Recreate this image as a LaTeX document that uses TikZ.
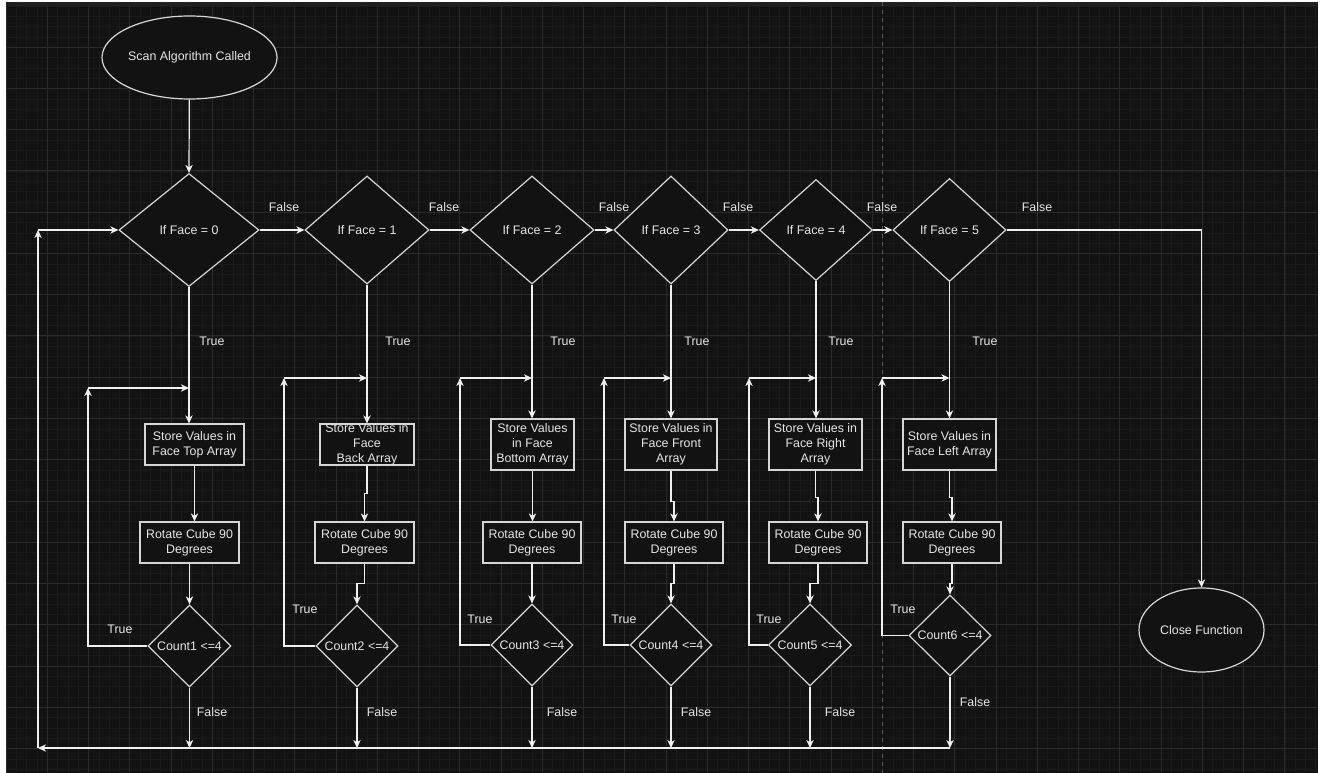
\documentclass[tikz,border=0pt]{standalone}
\usepackage{fontspec}
\setmainfont{Liberation Sans}
\usetikzlibrary{shapes.geometric,arrows.meta}
\definecolor{bgc}{HTML}{121212}
\definecolor{minorc}{HTML}{1A1A1A}
\definecolor{majorc}{HTML}{2A2A2A}
\definecolor{bandc}{HTML}{202020}
\definecolor{linec}{HTML}{F0F0F0}
\definecolor{shapec}{HTML}{D6D6D6}
\definecolor{txtc}{HTML}{E6E6E6}
\definecolor{dashc}{HTML}{5A5A5A}
\begin{document}
\begin{tikzpicture}[x=0.75pt,y=-0.75pt,
  every node/.style={font=\fontsize{9.3}{11.4}\selectfont, text=txtc},
  sz/.style 2 args={minimum width=#1*0.75pt, minimum height=#2*0.75pt},
  shp/.style={draw=shapec, fill=bgc, line width=0.9pt, inner sep=0pt, align=center},
  proc/.style={shp, rectangle},
  dec/.style={shp, diamond},
  term/.style={shp, ellipse},
  conn/.style={draw=linec, line width=0.9pt},
  arr/.style={conn, -{Stealth[length=6pt,width=5.5pt,inset=1.8pt]}},
  lbl/.style={inner sep=0pt}
]
% page and canvas
\fill[white] (0,0) rectangle (1324,773);
\useasboundingbox (0,0) rectangle (1324,773);
\fill[bgc] (6,2) rectangle (1318,773);
\foreach \i in {0,...,127} \draw[minorc, line width=0.4pt] ({6+\i*10.3125},2) -- ({6+\i*10.3125},773);
\foreach \i in {0,...,74} \draw[minorc, line width=0.4pt] (6,{6+\i*10.3125}) -- (1318,{6+\i*10.3125});
\foreach \i in {0,...,31} \draw[majorc, line width=0.75pt] ({6+\i*41.25},2) -- ({6+\i*41.25},773);
\foreach \i in {0,...,18} \draw[majorc, line width=0.75pt] (6,{6+\i*41.25}) -- (1318,{6+\i*41.25});
\fill[bandc] (6,2) rectangle (1318,6);
\draw[dashc, line width=0.5pt, dash pattern=on 3pt off 3pt] (882,2) -- (882,773);

% nodes
\node[term, sz={175}{83}] (start) at (189.5,57.5) {Scan Algorithm Called};
\node[dec, sz={140}{113}] (d0) at (189,230) {If Face = 0};
\node[dec, sz={124}{108}] (d1) at (367,230) {If Face = 1};
\node[dec, sz={124}{108}] (d2) at (532,230) {If Face = 2};
\node[dec, sz={114}{108}] (d3) at (671,230) {If Face = 3};
\node[dec, sz={113}{101}] (d4) at (816,230) {If Face = 4};
\node[dec, sz={113}{103}] (d5) at (949.5,230) {If Face = 5};

\node[proc, sz={99}{41}] (s0) at (194.5,444.5) {Store Values in\\Face Top Array};
\node[proc, sz={94}{41}, inner ysep=-3pt] (s1) at (367,444.5) {Store Values in\\Face\\Back Array};
\node[proc, sz={83}{51}] (s2) at (532.5,444.5) {Store Values\\in Face\\Bottom Array};
\node[proc, sz={92}{51}] (s3) at (671,444.5) {Store Values in\\Face Front\\Array};
\node[proc, sz={93}{51}] (s4) at (815.5,444.5) {Store Values in\\Face Right\\Array};
\node[proc, sz={93}{51}] (s5) at (949.5,444.5) {Store Values in\\Face Left Array};

\node[proc, sz={99}{41}] (r0) at (189.5,542.5) {Rotate Cube 90\\Degrees};
\node[proc, sz={99}{41}] (r1) at (364.5,542.5) {Rotate Cube 90\\Degrees};
\node[proc, sz={98}{41}] (r2) at (532,542.5) {Rotate Cube 90\\Degrees};
\node[proc, sz={98}{41}] (r3) at (674,542.5) {Rotate Cube 90\\Degrees};
\node[proc, sz={98}{41}] (r4) at (818,542.5) {Rotate Cube 90\\Degrees};
\node[proc, sz={98}{41}] (r5) at (952,542.5) {Rotate Cube 90\\Degrees};

\node[dec, sz={83}{82}] (c0) at (189.5,646) {Count1 <=4};
\node[dec, sz={82}{82}] (c1) at (357,646) {Count2 <=4};
\node[dec, sz={82}{82}] (c2) at (532,645) {Count3 <=4};
\node[dec, sz={82}{82}] (c3) at (671,645) {Count4 <=4};
\node[dec, sz={83}{82}] (c4) at (810,645) {Count5 <=4};
\node[dec, sz={82}{81}] (c5) at (950,635.5) {Count6 <=4};

\node[term, sz={125}{84}] (close) at (1201.5,630) {Close Function};

% coordinates
\coordinate (L1) at (38,748);
\coordinate (L2) at (38,230);
\coordinate (ja0) at (88,388);  \coordinate (jb0) at (189,388);
\coordinate (ja1) at (284,378); \coordinate (jb1) at (367,378);
\coordinate (ja2) at (460,378); \coordinate (jb2) at (532,378);
\coordinate (ja3) at (604,378); \coordinate (jb3) at (671,378);
\coordinate (ja4) at (749,378); \coordinate (jb4) at (816,378);
\coordinate (ja5) at (882,378); \coordinate (jb5) at (949.5,378);

% top row
\draw[arr] (start) -- (d0.north);
\draw[arr] (d0.east) -- (d1.west);
\draw[arr] (d1.east) -- (d2.west);
\draw[arr] (d2.east) -- (d3.west);
\draw[arr] (d3.east) -- (d4.west);
\draw[arr] (d4.east) -- (d5.west);
\draw[arr] (d5.east) -| (close.north);

% columns
\foreach \k in {0,...,5}{
  \draw[arr] (d\k.south) -- (s\k.north -| d\k.south);
  \draw[arr] (ja\k) -- (jb\k);
  \draw[arr] (c\k.west) -| (ja\k);
  \draw[arr] (c\k.south) -- (c\k.south |- L1);
}
\draw[arr] (s0.south) -- (s0.south |- r0.north);
\draw[arr] (r0.south) -- (c0.north);
\draw[arr] (s1.south) -- ++(0,28) -| (r1.north);
\draw[arr] (r1.south) -- ++(0,20) -| (c1.north);
\draw[arr] (s2.south) -- (s2.south |- r2.north);
\draw[arr] (r2.south) -- (c2.north);
\draw[arr] (s3.south) -- ++(0,31) -| (r3.north);
\draw[arr] (r3.south) -- ++(0,20) -| (c3.north);
\draw[arr] (s4.south) -- ++(0,27) -| (r4.north);
\draw[arr] (r4.south) -- ++(0,20) -| (c4.north);
\draw[arr] (s5.south) -- ++(0,27) -| (r5.north);
\draw[arr] (r5.south) -- ++(0,20) -| (c5.north);

% return loop
\draw[arr] (c5.south |- L1) -- (L1);
\draw[arr] (L1) -- (L2);
\draw[arr] (L2) -- (d0.west);

% labels
\node[lbl] (f01) at (284,207) {False};
\node[lbl] (f12) at (444,207) {False};
\node[lbl] (f23) at (614,207) {False};
\node[lbl] (f34) at (738,207) {False};
\node[lbl] (f45) at (882,207) {False};
\node[lbl] (f5c) at (1037,207) {False};

\node[lbl] (t0) at (212,341) {True};
\node[lbl] (t1) at (398,341) {True};
\node[lbl] (t2) at (563,341) {True};
\node[lbl] (t3) at (697,341) {True};
\node[lbl] (t4) at (841,341) {True};
\node[lbl] (t5) at (985,341) {True};

\node[lbl] (u0) at (120,629) {True};
\node[lbl] (u1) at (305,609) {True};
\node[lbl] (u2) at (480,619) {True};
\node[lbl] (u3) at (624,619) {True};
\node[lbl] (u4) at (769,619) {True};
\node[lbl] (u5) at (903,609) {True};

\node[lbl] (g0) at (212,712) {False};
\node[lbl] (g1) at (382,712) {False};
\node[lbl] (g2) at (562,712) {False};
\node[lbl] (g3) at (696,712) {False};
\node[lbl] (g4) at (840,712) {False};
\node[lbl] (g5) at (975,702) {False};
\end{tikzpicture}
\end{document}
